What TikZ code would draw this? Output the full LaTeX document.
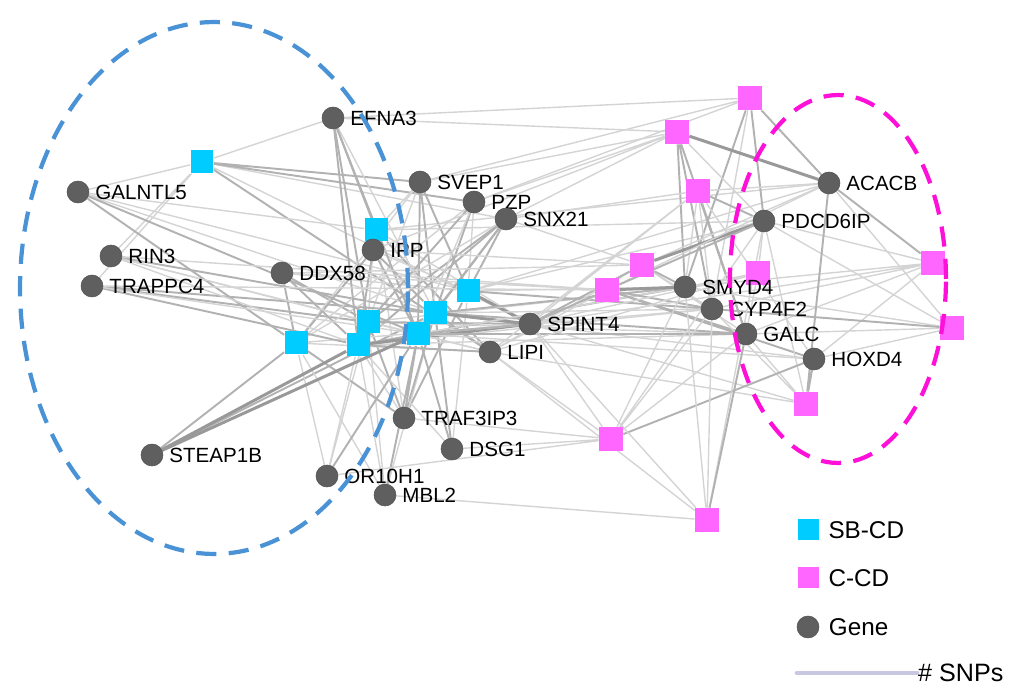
\documentclass[tikz,border=0pt]{standalone}
\usepackage{fontspec}
\setmainfont{Liberation Sans}
\usetikzlibrary{backgrounds}

\definecolor{genegray}{HTML}{5F5F5F}
\definecolor{sbcyan}{HTML}{00CCFF}
\definecolor{ccpink}{HTML}{FF66FF}
\definecolor{ringblue}{HTML}{4A92D6}
\definecolor{ringpink}{HTML}{FF10D8}
\definecolor{snpline}{HTML}{C8C8E0}

\begin{document}
\begin{tikzpicture}[x=0.02cm,y=-0.02cm,
    every label/.style={font=\fontsize{11.7}{13}\selectfont},
    gene/.style={circle,fill=genegray,draw=genegray!85!black,line width=0.3pt,minimum size=0.44cm,inner sep=0pt,label distance=4pt},
    sbcd/.style={rectangle,fill=sbcyan,minimum size=0.46cm,inner sep=0pt},
    ccd/.style={rectangle,fill=ccpink,minimum size=0.48cm,inner sep=0pt},
    lite/.style={draw=black!17,line width=0.8pt},
    midl/.style={draw=black!30,line width=1.1pt},
    dark/.style={draw=black!40,line width=1.7pt},
    ring/.style={line width=2.4pt,dash pattern=on 11.5pt off 7pt},
    lgnd/.style={font=\fontsize{13.8}{16}\selectfont}]
        \useasboundingbox (0,0) rectangle (1015,688);

        % SB-CD clusters
        \node [sbcd] at (202,162) (b1){};
        \node [sbcd] at (376,230) (b2){};
        \node [sbcd] at (468,291) (b3){};
        \node [sbcd] at (368,322) (b4){};
        \node [sbcd] at (435,313) (b5){};
        \node [sbcd] at (296,343) (b6){};
        \node [sbcd] at (358,345) (b7){};
        \node [sbcd] at (418,334) (b8){};

        % C-CD clusters
        \node [ccd] at (750,98) (m1){};
        \node [ccd] at (677,132) (m2){};
        \node [ccd] at (698,191) (m3){};
        \node [ccd] at (642,265) (m4){};
        \node [ccd] at (607,290) (m5){};
        \node [ccd] at (758,273) (m6){};
        \node [ccd] at (933,263) (m7){};
        \node [ccd] at (952,328) (m8){};
        \node [ccd] at (806,404) (m9){};
        \node [ccd] at (611,439) (m10){};
        \node [ccd] at (707,520) (m11){};

        % genes
        \node [gene,label=right:EFNA3] at (333,118) (efna){};
        \node [gene,label=right:GALNTL5] at (78,192) (galn){};
        \node [gene,label=right:RIN3] at (111,256) (rin){};
        \node [gene,label=right:TRAPPC4] at (92,286) (trap){};
        \node [gene,label=right:DDX58] at (282,273) (ddx){};
        \node [gene,label=right:SVEP1] at (420,182) (svep){};
        \node [gene,label=right:PZP] at (474,202) (pzp){};
        \node [gene,label=right:SNX21] at (506,219) (snx){};
        \node [gene,label=right:IPP] at (373,250) (ipp){};
        \node [gene,label=right:SPINT4] at (530,324) (spint){};
        \node [gene,label=right:LIPI] at (490,352) (lipi){};
        \node [gene,label=right:TRAF3IP3] at (404,418) (traf){};
        \node [gene,label=right:DSG1] at (452,449) (dsg){};
        \node [gene,label=right:STEAP1B] at (152,455) (steap){};
        \node [gene,label=right:OR10H1] at (327,476) (or10){};
        \node [gene,label=right:MBL2] at (385,495) (mbl){};
        \node [gene,label=right:ACACB] at (829,183) (acacb){};
        \node [gene,label=right:PDCD6IP] at (764,221) (pdcd){};
        \node [gene,label=right:SMYD4] at (685,287) (smyd){};
        \node [gene,label=right:CYP4F2] at (712,309) (cyp){};
        \node [gene,label=right:GALC] at (746,334) (galc){};
        \node [gene,label=right:HOXD4] at (814,359) (hoxd){};

        \begin{pgfonlayer}{background}
        % SB-CD links
        \draw [lite] (b1) -- (efna) (b1) -- (galn) (b1) -- (rin) (b1) -- (trap) (b1) -- (snx) (b1) -- (spint);
        \draw [midl] (b1) -- (svep) (b1) -- (pzp) (b1) -- (lipi);
        \draw [lite] (b2) -- (galn) (b2) -- (svep) (b2) -- (traf) (b2) -- (spint) (b2) -- (pdcd) (b2) -- (acacb);
        \draw [midl] (b2) -- (efna) (b2) -- (lipi);
        \draw [lite] (b3) -- (pzp) (b3) -- (ipp) (b3) -- (dsg) (b3) -- (galn) (b3) -- (smyd) (b3) -- (pdcd) (b3) -- (acacb) (b3) -- (ddx);
        \draw [midl] (b3) -- (svep) (b3) -- (snx) (b3) -- (traf) (b3) -- (cyp);
        \draw [dark] (b3) -- (spint);
        \draw [lite] (b4) -- (svep) (b4) -- (ipp) (b4) -- (rin) (b4) -- (or10) (b4) -- (mbl) (b4) -- (lipi) (b4) -- (smyd) (b4) -- (galc);
        \draw [midl] (b4) -- (efna) (b4) -- (pzp) (b4) -- (snx) (b4) -- (ddx) (b4) -- (trap) (b4) -- (traf) (b4) -- (spint);
        \draw [lite] (b5) -- (efna) (b5) -- (galn) (b5) -- (mbl) (b5) -- (cyp) (b5) -- (hoxd);
        \draw [midl] (b5) -- (svep) (b5) -- (pzp) (b5) -- (snx) (b5) -- (ipp) (b5) -- (rin) (b5) -- (trap) (b5) -- (traf) (b5) -- (dsg) (b5) -- (lipi) (b5) -- (steap) (b5) -- (smyd) (b5) -- (galc);
        \draw [dark] (b5) -- (spint);
        \draw [lite] (b6) -- (pzp) (b6) -- (snx) (b6) -- (or10) (b6) -- (mbl) (b6) -- (spint) (b6) -- (lipi) (b6) -- (svep);
        \draw [midl] (b6) -- (ddx) (b6) -- (galn) (b6) -- (ipp) (b6) -- (steap) (b6) -- (traf);
        \draw [lite] (b7) -- (rin) (b7) -- (traf) (b7) -- (or10) (b7) -- (mbl) (b7) -- (dsg) (b7) -- (cyp) (b7) -- (galc);
        \draw [midl] (b7) -- (efna) (b7) -- (ddx) (b7) -- (ipp) (b7) -- (trap) (b7) -- (snx) (b7) -- (lipi) (b7) -- (smyd);
        \draw [dark] (b7) -- (steap) (b7) -- (spint);
        \draw [lite] (b8) -- (pzp) (b8) -- (lipi) (b8) -- (trap) (b8) -- (rin) (b8) -- (smyd) (b8) -- (hoxd) (b8) -- (cyp);
        \draw [midl] (b8) -- (efna) (b8) -- (svep) (b8) -- (ipp) (b8) -- (snx) (b8) -- (traf) (b8) -- (dsg) (b8) -- (or10) (b8) -- (mbl) (b8) -- (spint) (b8) -- (galn) (b8) -- (galc);
        \draw [dark] (b8) -- (steap);

        % C-CD links
        \draw [lite] (m1) -- (svep) (m1) -- (pzp) (m1) -- (cyp) (m1) -- (efna);
        \draw [midl] (m1) -- (acacb) (m1) -- (pdcd) (m1) -- (smyd);
        \draw [lite] (m2) -- (pzp) (m2) -- (ipp) (m2) -- (svep) (m2) -- (snx) (m2) -- (pdcd) (m2) -- (efna);
        \draw [midl] (m2) -- (smyd) (m2) -- (cyp) (m2) -- (galc);
        \draw [dark] (m2) -- (acacb);
        \draw [lite] (m3) -- (acacb) (m3) -- (smyd) (m3) -- (hoxd) (m3) -- (snx) (m3) -- (spint) (m3) -- (cyp) (m3) -- (lipi);
        \draw [midl] (m3) -- (pdcd) (m3) -- (galc);
        \draw [lite] (m4) -- (acacb) (m4) -- (cyp) (m4) -- (snx) (m4) -- (ipp) (m4) -- (lipi) (m4) -- (galc) (m4) -- (ddx);
        \draw [midl] (m4) -- (smyd) (m4) -- (spint);
        \draw [dark] (m4) -- (pdcd);
        \draw [lite] (m5) -- (lipi) (m5) -- (trap) (m5) -- (rin) (m5) -- (acacb) (m5) -- (ddx);
        \draw [midl] (m5) -- (cyp) (m5) -- (galc) (m5) -- (hoxd) (m5) -- (pdcd) (m5) -- (spint);
        \draw [dark] (m5) -- (smyd);
        \draw [lite] (m6) -- (pdcd) (m6) -- (smyd) (m6) -- (galc) (m6) -- (spint) (m6) -- (lipi);
        \draw [lite] (m7) -- (pdcd) (m7) -- (smyd) (m7) -- (galc) (m7) -- (hoxd) (m7) -- (cyp) (m7) -- (spint);
        \draw [midl] (m7) -- (acacb);
        \draw [lite] (m8) -- (pdcd) (m8) -- (smyd) (m8) -- (galc) (m8) -- (hoxd) (m8) -- (acacb);
        \draw [midl] (m8) -- (cyp);
        \draw [lite] (m9) -- (galc) (m9) -- (pdcd) (m9) -- (lipi) (m9) -- (cyp) (m9) -- (spint);
        \draw [midl] (m9) -- (hoxd) (m9) -- (acacb);
        \draw [lite] (m10) -- (dsg) (m10) -- (traf) (m10) -- (spint) (m10) -- (lipi) (m10) -- (galc) (m10) -- (cyp) (m10) -- (smyd) (m10) -- (or10) (m10) -- (pdcd);
        \draw [midl] (m10) -- (hoxd);
        \draw [lite] (m11) -- (mbl) (m11) -- (lipi) (m11) -- (smyd) (m11) -- (cyp) (m11) -- (spint) (m11) -- (pdcd);
        \draw [midl] (m11) -- (galc);
        \end{pgfonlayer}

        % groups
        \draw [ring,ringblue] (214,288) ellipse [x radius=3.88cm, y radius=5.32cm];
        \draw [ring,ringpink] (838,279) ellipse [x radius=2.16cm, y radius=3.68cm];

        % key
        \node [sbcd,minimum size=0.42cm,label={[lgnd,label distance=2pt]right:SB-CD}] at (808,530) (keyb){};
        \node [ccd,minimum size=0.42cm,label={[lgnd,label distance=2pt]right:C-CD}] at (808,578) (keyc){};
        \node [gene,label={[lgnd,label distance=2pt]right:Gene}] at (808,627) (keyg){};
        \coordinate (snpa) at (797,673);
        \coordinate (snpb) at (917,673);
        \draw [snpline,line width=2.8pt,line cap=round] (snpa) -- (snpb);
        \node [font=\fontsize{14.3}{16}\selectfont,anchor=west,inner sep=0.5pt] at (snpb) (snptext){\# SNPs};
      \end{tikzpicture}
\end{document}
